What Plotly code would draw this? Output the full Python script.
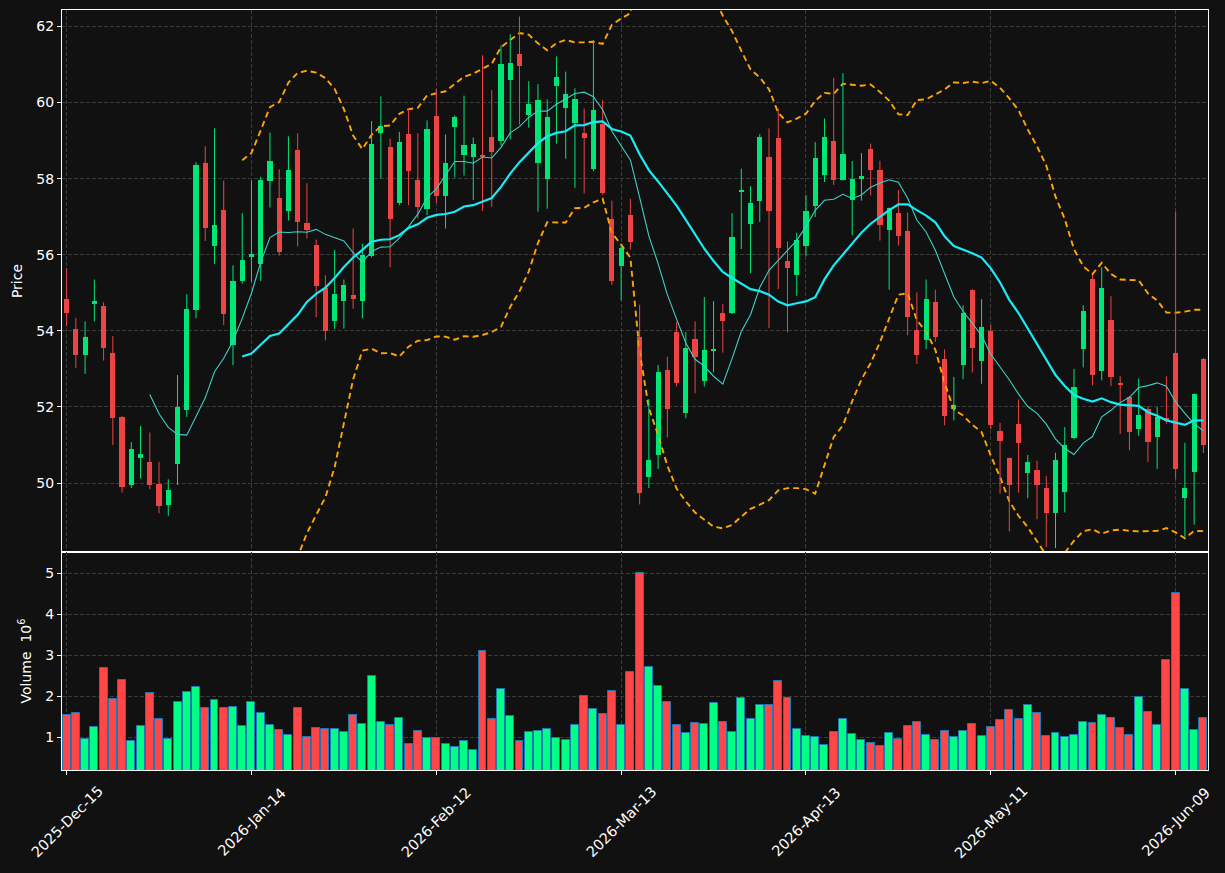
import plotly.graph_objects as go
import pandas as pd

# ---------------- data (prices in $, volume in millions) ----------------
start_date = "2025-12-15"
holidays = ["2025-12-25", "2026-01-01", "2026-01-19", "2026-02-16", "2026-04-03", "2026-05-25"]

open_ = [54.84, 54.05, 53.37, 54.71, 54.65, 53.42, 51.74, 49.95, 50.66, 50.56,
         49.97, 49.43, 50.51, 51.93, 54.56, 58.41, 56.24, 57.18, 53.63, 55.31,
         55.95, 55.75, 57.95, 57.49, 57.15, 58.75, 56.83, 56.26, 55.12, 54.27,
         54.78, 54.94, 54.78, 55.96, 59.21, 58.83, 57.36, 59.17, 57.96, 57.21,
         59.64, 57.54, 59.35, 58.62, 58.58, 58.63, 59.10, 58.98, 60.58, 61.27,
         59.67, 58.41, 57.99, 60.44, 59.86, 59.46, 59.21, 58.26, 59.43, 56.94,
         55.70, 57.04, 53.84, 50.15, 50.75, 52.97, 53.97, 51.85, 53.78, 52.69,
         53.48, 54.47, 54.46, 57.66, 56.82, 57.42, 58.57, 59.07, 55.84, 55.47,
         56.24, 57.29, 58.10, 58.98, 57.97, 57.44, 58.00, 58.78, 58.23, 56.66,
         57.09, 56.62, 54.02, 53.75, 54.76, 53.25, 51.96, 53.11, 55.07, 53.22,
         53.99, 51.36, 50.65, 51.56, 50.27, 50.35, 49.87, 49.22, 49.77, 51.18,
         53.53, 55.36, 52.95, 54.28, 52.63, 52.25, 51.42, 51.95, 51.20, 51.70,
         53.43, 49.60, 50.28, 53.27]
high = [55.64, 54.34, 54.25, 55.35, 54.75, 53.86, 51.76, 51.08, 51.50, 51.33,
        50.56, 50.10, 52.84, 54.96, 58.43, 58.85, 59.32, 57.95, 55.72, 57.09,
        57.95, 58.05, 59.21, 58.25, 59.11, 59.19, 57.88, 56.40, 55.46, 56.13,
        55.35, 56.69, 56.29, 59.51, 60.16, 59.05, 59.23, 59.85, 59.19, 59.53,
        60.36, 59.16, 59.66, 60.18, 59.08, 61.24, 60.33, 61.50, 61.79, 62.26,
        60.56, 60.48, 60.08, 61.21, 60.81, 60.37, 59.84, 61.64, 60.07, 57.42,
        56.27, 57.47, 54.69, 52.20, 53.10, 53.32, 54.23, 53.97, 54.25, 54.89,
        54.78, 54.71, 57.09, 58.26, 57.80, 59.17, 59.32, 59.84, 56.35, 56.58,
        57.57, 58.96, 59.58, 60.65, 60.77, 58.46, 58.67, 58.92, 58.47, 57.24,
        57.70, 57.11, 55.01, 55.35, 55.08, 53.51, 52.79, 54.67, 55.09, 54.83,
        54.16, 51.58, 50.67, 52.20, 50.74, 50.59, 50.19, 50.80, 51.47, 53.00,
        54.67, 55.47, 55.67, 54.91, 52.81, 52.29, 52.75, 52.02, 52.00, 52.81,
        57.13, 51.06, 52.36, 53.29]
low = [54.12, 53.02, 52.87, 54.25, 53.22, 51.00, 49.75, 49.87, 50.12, 49.84,
       49.21, 49.14, 49.95, 51.74, 54.33, 56.36, 55.76, 54.15, 53.10, 55.24,
       55.29, 55.31, 57.24, 55.98, 56.90, 56.22, 56.43, 54.36, 53.75, 54.05,
       54.06, 54.58, 54.33, 55.93, 58.00, 55.67, 57.30, 57.30, 56.95, 57.04,
       57.36, 56.69, 58.03, 58.08, 57.44, 57.15, 57.26, 58.87, 59.03, 59.42,
       59.34, 57.13, 57.21, 58.92, 58.52, 57.76, 57.61, 58.20, 57.58, 55.21,
       54.80, 56.13, 49.44, 49.87, 50.37, 51.20, 52.54, 51.70, 52.36, 52.54,
       52.91, 53.43, 54.44, 56.15, 55.52, 56.86, 54.07, 55.10, 53.96, 54.92,
       55.96, 56.99, 57.91, 57.83, 57.95, 56.51, 57.42, 57.56, 56.37, 55.08,
       56.24, 53.88, 53.13, 53.52, 53.71, 51.52, 51.65, 52.73, 52.91, 52.61,
       51.42, 49.72, 48.73, 49.75, 49.60, 49.05, 48.32, 48.29, 49.23, 51.15,
       53.04, 52.57, 52.70, 52.55, 51.29, 50.86, 51.24, 50.56, 50.37, 51.56,
       50.10, 48.59, 48.91, 50.79]
close = [54.46, 53.37, 53.84, 54.79, 53.54, 51.72, 49.91, 50.90, 50.77, 49.95,
         49.41, 49.82, 52.00, 54.58, 58.36, 56.70, 56.78, 54.44, 55.31, 55.87,
         56.02, 57.96, 58.47, 56.08, 58.23, 56.87, 56.66, 55.19, 54.00, 54.97,
         55.21, 54.85, 55.99, 58.90, 59.37, 56.95, 58.96, 58.20, 57.25, 59.31,
         57.54, 58.41, 59.62, 58.89, 58.90, 58.59, 58.70, 61.01, 61.04, 60.97,
         59.96, 60.06, 59.62, 60.67, 60.23, 60.09, 59.07, 59.80, 57.62, 55.31,
         56.17, 56.34, 49.74, 50.60, 52.92, 51.95, 52.63, 53.55, 53.32, 53.50,
         53.53, 54.26, 56.46, 57.70, 57.35, 59.09, 57.16, 56.17, 55.66, 56.38,
         57.16, 58.54, 59.10, 57.97, 58.65, 58.00, 58.06, 58.23, 56.77, 57.22,
         56.49, 54.37, 53.37, 54.83, 53.83, 51.76, 52.04, 54.47, 53.54, 54.10,
         51.53, 51.11, 49.95, 51.06, 50.56, 49.95, 49.22, 50.60, 51.01, 52.52,
         54.52, 52.84, 55.12, 52.79, 52.58, 51.35, 51.79, 51.09, 51.74, 51.65,
         50.36, 49.87, 52.34, 51.00]
volume = [1.537, 1.602, 0.967, 1.244, 2.683, 1.943, 2.390, 0.919, 1.268, 2.073,
          1.439, 0.951, 1.854, 2.098, 2.220, 1.707, 1.902, 1.707, 1.732, 1.268,
          1.854, 1.585, 1.293, 1.171, 1.049, 1.707, 1.000, 1.220, 1.195, 1.195,
          1.122, 1.537, 1.317, 2.488, 1.366, 1.293, 1.463, 0.829, 1.146, 0.976,
          0.976, 0.829, 0.756, 0.902, 0.683, 3.098, 1.439, 2.171, 1.512, 0.902,
          1.122, 1.146, 1.195, 0.976, 0.927, 1.293, 2.000, 1.683, 1.561, 2.122,
          1.293, 2.585, 5.000, 2.707, 2.244, 1.854, 1.293, 1.098, 1.341, 1.317,
          1.829, 1.366, 1.122, 1.951, 1.439, 1.780, 1.780, 2.366, 1.951, 1.195,
          1.024, 1.000, 0.805, 1.122, 1.439, 1.073, 0.927, 0.854, 0.780, 1.098,
          0.951, 1.268, 1.366, 1.049, 0.927, 1.146, 1.000, 1.146, 1.317, 1.024,
          1.244, 1.415, 1.659, 1.439, 1.780, 1.585, 1.024, 1.098, 1.000, 1.049,
          1.366, 1.341, 1.537, 1.463, 1.220, 1.049, 1.976, 1.610, 1.293, 2.878,
          4.512, 2.171, 1.171, 1.463]

# ---------------- derived series ----------------
n = len(close)
dates = pd.bdate_range(start=start_date, periods=n, freq="C", holidays=holidays)
idx = list(range(n))
tick_idx = idx[::20]
tick_text = [dates[i].strftime("%Y-%b-%d") for i in tick_idx]

c = pd.Series(close)
sma10 = c.rolling(10).mean()
sma20 = c.rolling(20).mean()
std20 = c.rolling(20).std(ddof=0)
bb_up = sma20 + 2 * std20
bb_dn = sma20 - 2 * std20

UP_C, DN_C = "#00e676", "#ee4444"
VUP_C, VDN_C = "#00ff84", "#ff4747"

up = [i for i in idx if close[i] >= open_[i]]
dn = [i for i in idx if close[i] < open_[i]]


def wick_xy(sel):
    xs, ys = [], []
    for i in sel:
        xs += [i, i, None]
        ys += [low[i], high[i], None]
    return xs, ys


fig = go.Figure()

# Bollinger bands (drawn beneath candles)
for band in (bb_up, bb_dn):
    fig.add_trace(go.Scatter(x=idx, y=band, mode="lines", xaxis="x", yaxis="y",
                             line=dict(color="#ffa500", width=1.9, dash="6px,4px"),
                             hoverinfo="skip"))

# wicks
for sel, col in ((up, UP_C), (dn, DN_C)):
    wx, wy = wick_xy(sel)
    fig.add_trace(go.Scatter(x=wx, y=wy, mode="lines", xaxis="x", yaxis="y",
                             line=dict(color=col, width=1), hoverinfo="skip"))

# bodies
for sel, col in ((up, UP_C), (dn, DN_C)):
    fig.add_trace(go.Bar(
        x=sel,
        y=[max(abs(close[i] - open_[i]), 0.03) for i in sel],
        base=[min(open_[i], close[i]) for i in sel],
        width=0.56, marker=dict(color=col, line=dict(width=0)),
        xaxis="x", yaxis="y",
        customdata=[dates[i].strftime("%Y-%m-%d") for i in sel],
        hovertemplate="%{customdata}<extra></extra>"))

# moving averages
fig.add_trace(go.Scatter(x=idx, y=sma10, mode="lines", xaxis="x", yaxis="y",
                         line=dict(color="#3ed0c6", width=1.1), hoverinfo="skip"))
fig.add_trace(go.Scatter(x=idx, y=sma20, mode="lines", xaxis="x", yaxis="y",
                         line=dict(color="#17ecf7", width=2.2), hoverinfo="skip"))

# volume
for sel, col in ((up, VUP_C), (dn, VDN_C)):
    fig.add_trace(go.Bar(
        x=sel, y=[volume[i] for i in sel], width=0.86,
        marker=dict(color=col, line=dict(color="#1f77b4", width=1)),
        xaxis="x2", yaxis="y2", hoverinfo="skip"))

GRID = "#3a3a3a"
common_x = dict(range=[-0.5, n - 0.5], tickmode="array", tickvals=tick_idx,
                showgrid=True, gridcolor=GRID, griddash="4px,2px", gridwidth=1,
                showline=True, mirror=True, linecolor="white", linewidth=1,
                zeroline=False, showticklabels=False)
common_y = dict(showgrid=True, gridcolor=GRID, griddash="4px,2px", gridwidth=1,
                showline=True, mirror=True, linecolor="white", linewidth=1,
                zeroline=False, ticks="outside", ticklen=4, tickcolor="white",
                tickfont=dict(size=14, color="white"))

split = 218 / 760
fig.update_layout(
    width=1225, height=873,
    paper_bgcolor="#111111", plot_bgcolor="#111111",
    margin=dict(l=62, r=17, t=10, b=103),
    showlegend=False, barmode="overlay", bargap=0,
    font=dict(family="DejaVu Sans", size=14, color="white"),
    xaxis=dict(anchor="y", domain=[0, 1], ticks="", **common_x),
    xaxis2=dict(anchor="y2", domain=[0, 1], matches="x", ticks="outside",
                ticklen=4, tickcolor="white", **common_x),
    yaxis=dict(domain=[split, 1], range=[48.19, 62.43], tickmode="linear",
               tick0=50, dtick=2,
               title=dict(text="Price", standoff=10, font=dict(size=14, color="white")),
               **common_y),
    yaxis2=dict(domain=[0, split], range=[0.2, 5.52], tickmode="linear",
                tick0=1, dtick=1,
                title=dict(text="Volume  10<sup>6</sup>", standoff=10,
                           font=dict(size=14, color="white")),
                **common_y),
)

# rotated date labels centred under their ticks
for i, t in zip(tick_idx, tick_text):
    fig.add_annotation(x=i, xref="x2", y=-0.0678, yref="paper", text=t,
                       textangle=-45, showarrow=False, xanchor="center",
                       yanchor="middle", font=dict(size=14.5, color="white"))

fig.write_html("out.html")
